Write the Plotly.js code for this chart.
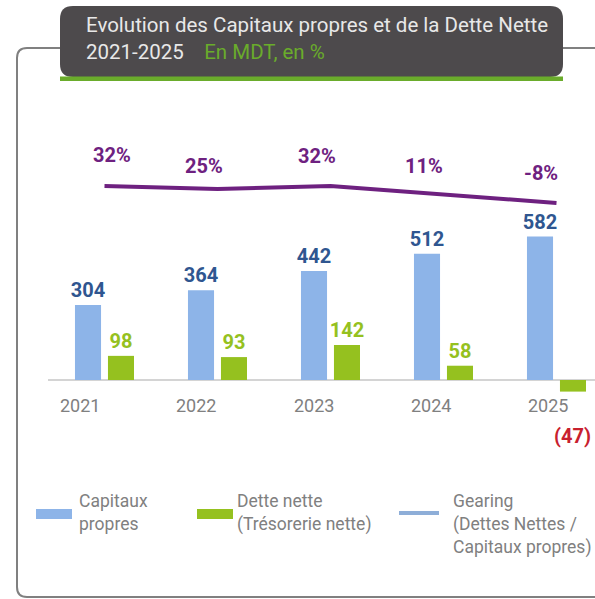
<!DOCTYPE html>
<html>
<head>
<meta charset="utf-8">
<script src="https://cdn.plot.ly/plotly-3.0.1.min.js"></script>
<style>
  body { margin: 0; background: #fff; }
  #chart { width: 595px; height: 599px; }
</style>
</head>
<body>
<div id="chart"></div>
<script>
// values (MDT and %)
const years = ['2021', '2022', '2023', '2024', '2025']
const capitauxPropres = [304, 364, 442, 512, 582]
const detteNette = [98, 93, 142, 58, -47]
const gearing = [32, 25, 32, 11, -8]

const W = 595
const H = 599
const FONT = 'Roboto, "DejaVu Sans", sans-serif'
const BLUE = '#8db4e8'
const BLUE_TXT = '#2f5690'
const GREEN = '#95c11f'
const PURPLE = '#6e2180'
const RED = '#c8202e'
const GREY_TXT = '#808080'

// pixel -> paper (margins are 0, so paper == page)
const px = x => x / W
const py = y => 1 - y / H

function roundRect (x0, y0, x1, y1, r) {
  return `M${px(x0 + r)},${py(y0)} H${px(x1 - r)} Q${px(x1)},${py(y0)} ${px(x1)},${py(y0 + r)}` +
    ` V${py(y1 - r)} Q${px(x1)},${py(y1)} ${px(x1 - r)},${py(y1)} H${px(x0 + r)}` +
    ` Q${px(x0)},${py(y1)} ${px(x0)},${py(y1 - r)} V${py(y0 + r)} Q${px(x0)},${py(y0)} ${px(x0 + r)},${py(y0)} Z`
}

var data = [
  {
    type: 'bar',
    name: 'Capitaux propres',
    x: years,
    y: capitauxPropres,
    marker: { color: BLUE },
    text: capitauxPropres.map(String),
    textposition: 'outside',
    constraintext: 'none',
    cliponaxis: false,
    textfont: { family: FONT, size: 20, color: BLUE_TXT, weight: 'bold' },
    hoverinfo: 'skip'
  },
  {
    type: 'bar',
    name: 'Dette nette (Trésorerie nette)',
    x: years,
    y: detteNette,
    marker: { color: GREEN },
    text: detteNette.map(v => (v < 0 ? '' : String(v))),
    textposition: 'outside',
    constraintext: 'none',
    cliponaxis: false,
    textfont: { family: FONT, size: 20, color: GREEN, weight: 'bold' },
    hoverinfo: 'skip'
  },
  {
    type: 'scatter',
    mode: 'lines',
    name: 'Gearing',
    x: years,
    y: gearing,
    yaxis: 'y2',
    line: { color: PURPLE, width: 4 },
    hoverinfo: 'skip'
  }
]

// annotations on the category axis use the category index
// % labels sit above the gearing line, nudged like in the original
const gearingNudge = [[7, 31], [-14, 23], [-14, 30], [-20, 29], [-16, 30]]
var annotations = gearing.map((g, i) => ({
  xref: 'x', yref: 'y2', x: i, y: g,
  text: g + '%', showarrow: false,
  xshift: gearingNudge[i][0], yshift: gearingNudge[i][1],
  font: { family: FONT, size: 20, color: PURPLE, weight: 'bold' }
}))

// year labels, a little left of each group like in the original
const yearNudge = [-25, -22, -17, -13, -9]
years.forEach((y, i) => {
  annotations.push({
    xref: 'x', yref: 'y', x: i, y: 0, yanchor: 'middle',
    text: y, showarrow: false, xshift: yearNudge[i], yshift: -25,
    font: { family: FONT, size: 18, color: GREY_TXT }
  })
})

// negative net debt shown in brackets, in red, below the year
detteNette.forEach((v, i) => {
  if (v < 0) {
    annotations.push({
      xref: 'x', yref: 'y', x: i, y: v,
      text: '(' + Math.abs(v) + ')', showarrow: false,
      xshift: 16, yshift: -44,
      font: { family: FONT, size: 20, color: RED, weight: 'bold' }
    })
  }
})

// legend drawn by hand (wide swatches, light line)
const legendFont = { family: FONT, size: 17.5, color: GREY_TXT }
annotations.push(
  { xref: 'paper', yref: 'paper', x: px(77), y: py(489), xanchor: 'left', yanchor: 'top', align: 'left',
    showarrow: false, text: 'Capitaux<br>propres', font: legendFont },
  { xref: 'paper', yref: 'paper', x: px(235), y: py(489), xanchor: 'left', yanchor: 'top', align: 'left',
    showarrow: false, text: 'Dette nette<br>(Trésorerie nette)', font: legendFont },
  { xref: 'paper', yref: 'paper', x: px(451), y: py(489), xanchor: 'left', yanchor: 'top', align: 'left',
    showarrow: false, text: 'Gearing<br>(Dettes Nettes /<br>Capitaux propres)', font: legendFont }
)

var shapes = [
  // grey frame
  {
    type: 'path', xref: 'paper', yref: 'paper',
    path: `M${px(600)},${py(597)} H${px(27)} Q${px(17)},${py(597)} ${px(17)},${py(587)} V${py(58)} Q${px(17)},${py(48)} ${px(27)},${py(48)} H${px(600)}`,
    line: { color: '#808080', width: 2 }
  },
  // title box
  {
    type: 'path', xref: 'paper', yref: 'paper',
    path: roundRect(60, 6, 563, 77, 13),
    fillcolor: '#4d4a4c', line: { width: 0 }
  },
  {
    type: 'rect', xref: 'paper', yref: 'paper',
    x0: px(60), x1: px(563), y0: py(81), y1: py(76.5),
    fillcolor: '#6aac2b', line: { width: 0 }
  },
  // legend swatches
  {
    type: 'rect', xref: 'paper', yref: 'paper',
    x0: px(36), x1: px(72), y0: py(519), y1: py(509),
    fillcolor: BLUE, line: { width: 0 }
  },
  {
    type: 'rect', xref: 'paper', yref: 'paper',
    x0: px(197), x1: px(233), y0: py(519), y1: py(509),
    fillcolor: GREEN, line: { width: 0 }
  },
  {
    type: 'line', xref: 'paper', yref: 'paper',
    x0: px(399), x1: px(439), y0: py(513), y1: py(513),
    line: { color: '#8eaed8', width: 4 }
  }
]

var layout = {
  width: W,
  height: H,
  margin: { l: 0, r: 0, t: 0, b: 0 },
  paper_bgcolor: '#fff',
  plot_bgcolor: 'rgba(0,0,0,0)',
  showlegend: false,
  barmode: 'group',
  bargap: 0.416,
  bargroupgap: 0.21,
  title: {
    text: 'Evolution des Capitaux propres et de la Dette Nette<br>2021-2025\u00a0\u00a0\u00a0\u00a0<span style="color:#6aac2b">En MDT, en %</span>',
    xref: 'container', yref: 'container',
    x: px(86), xanchor: 'left',
    y: py(32), yanchor: 'top',
    font: { family: FONT, size: 20.5, color: '#e8e8e8' }
  },
  xaxis: {
    type: 'category',
    domain: [px(48), 1],
    range: [-0.5, -0.5 + 547 / 113],
    showticklabels: false,
    showgrid: false,
    zeroline: false,
    showline: false,
    fixedrange: true
  },
  yaxis: {
    domain: [py(460), py(100)],
    range: [-324.5, 1136],
    showticklabels: false,
    showgrid: false,
    zeroline: true,
    zerolinecolor: '#d4d4d4',
    zerolinewidth: 2,
    fixedrange: true
  },
  yaxis2: {
    overlaying: 'y',
    range: [-612.7, 234.4],
    showticklabels: false,
    showgrid: false,
    zeroline: false,
    fixedrange: true
  },
  annotations: annotations,
  shapes: shapes
}

Plotly.newPlot('chart', data, layout, { displayModeBar: false, staticPlot: true })
</script>
</body>
</html>
